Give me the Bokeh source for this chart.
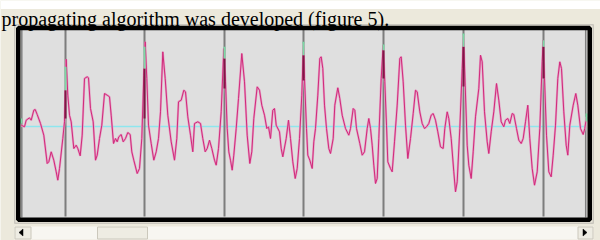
from bokeh.plotting import figure
from bokeh.models import Range1d, Label
from bokeh.embed import file_html
from bokeh.resources import INLINE

# ---------------- data (sample index, amplitude in a.u.; baseline = 0) ----------------
sig_t = [-0.3, 3.0, 4.7, 8.0, 9.7, 12.3, 13.7, 15.7, 19.0, 22.3, 25.7, 27.3, 29.7, 32.3, 34.7, 36.3,
         38.0, 41.3, 43.0, 44.7, 46.3, 48.0, 49.7, 52.3, 54.7, 56.3, 58.7, 60.7, 63.0, 65.7, 67.0,
         69.0, 71.7, 74.0, 75.7, 78.0, 80.3, 83.0, 85.7, 88.0, 89.7, 92.0, 94.0, 95.7, 97.3, 99.7,
         101.7, 104.0, 106.3, 108.7, 110.3, 112.3, 115.7, 118.0, 120.3, 122.3, 123.7, 125.3, 127.0,
         129.7, 132.3, 134.7, 137.0, 139.0, 141.3, 143.7, 146.3, 149.7, 153.0, 155.3, 157.0, 159.7,
         162.3, 164.0, 166.3, 169.0, 171.3, 173.0, 176.3, 179.0, 181.3, 183.7, 185.7, 188.0, 190.3,
         193.0, 194.7, 197.0, 199.7, 202.3, 204.0, 205.7, 207.3, 209.0, 210.7, 212.3, 214.7, 217.0,
         220.3, 223.0, 225.7, 228.3, 230.3, 232.3, 235.7, 238.0, 240.3, 243.0, 245.3, 247.0, 249.0,
         251.3, 253.0, 254.7, 258.0, 259.7, 261.3, 264.7, 267.0, 269.0, 271.3, 273.7, 275.7, 278.0,
         280.3, 282.0, 283.0, 285.0, 286.3, 288.3, 290.7, 292.3, 294.0, 296.3, 298.3, 299.7, 301.3,
         303.0, 305.0, 307.3, 309.0, 311.7, 313.3, 316.3, 318.3, 320.7, 324.0, 327.3, 329.0, 331.7,
         333.3, 335.0, 338.3, 340.7, 343.0, 345.7, 347.3, 349.0, 350.7, 352.3, 354.0, 355.7, 357.3,
         359.7, 361.7, 363.3, 365.0, 366.3, 369.0, 370.7, 373.0, 375.7, 378.3, 379.7, 381.7, 384.0,
         386.3, 389.0, 391.7, 394.0, 395.7, 398.3, 400.7, 403.0, 405.0, 407.3, 409.7, 411.7, 414.0,
         416.3, 419.0, 421.7, 423.3, 425.7, 427.3, 429.7, 432.3, 434.0, 435.7, 438.3, 440.7, 442.0,
         443.7, 445.7, 447.3, 449.7, 451.7, 454.0, 457.3, 459.0, 460.7, 463.0, 465.7, 467.3, 469.7,
         472.3, 475.0, 477.3, 479.7, 482.3, 484.0, 486.3, 488.3, 490.7, 492.3, 495.0, 497.3, 499.7,
         501.7, 504.0, 506.3, 508.3, 510.7, 513.0, 515.7, 518.3, 520.7, 521.7, 523.0, 525.0, 527.3,
         529.7, 531.7, 534.0, 536.3, 538.3, 540.0, 542.3, 544.7, 546.3, 548.3, 551.7, 554.3, 556.3,
         559.0, 561.7, 563.3, 565.0]
sig_a = [1.3, -0.3, 6.3, 8.7, 6.3, 16.3, 17.0, 12.0, 3.0, -8.7, -37.0, -35.3, -25.3, -33.7, -45.3, -53.7,
         -42.0, -12.0, 4.7, 67.3, 31.3, 11.3, 4.7, -22.0, -18.7, -22.0, -29.3, -8.7, 48.0, 49.7, 48.7,
         18.0, 4.7, -33.7, -28.7, -12.0, 1.3, 33.0, 31.3, 29.7, 11.3, -17.0, -12.0, -15.3, -10.3, -8.0,
         -15.3, -12.0, -6.0, -8.0, -25.3, -33.7, -47.0, -42.0, -12.0, 51.3, 84.7, 48.0, 1.3,
         -17.0, -33.7, -25.3, -12.0, 14.7, 74.7, 48.0, 11.3, -15.3, -33.7, -12.0, 24.7, 26.3,
         36.3, 34.7, 9.7, -8.7, -25.3, 3.0, 4.7, 3.0, -12.0, -25.3, -22.0, -13.7, -22.0,
         -33.7, -38.7, -22.0, 14.7, 78.0, 44.7, -2.0, -25.3, -33.7, -43.7, -28.7, -2.0, 28.0,
         73.0, 44.7, -8.7, -37.0, -25.3, 8.0, 39.7, 36.3, 21.3, 11.3, -2.0, -0.3, -12.0,
         16.3, 18.0, 1.3, -5.3, -22.0, -30.3, -12.0, 6.3, -12.0, -35.3, -52.0, -42.0, -12.0,
         31.3, 83.0, 48.0, -2.0, -28.7, -33.7, -42.0, -15.3, -2.0, 31.3, 68.0, 69.7, 58.0,
         21.3, -2.0, -22.0, -27.0, -12.0, 21.3, 38.7, 28.0, 11.3, -2.0, -8.7, -2.0, 18.0,
         16.3, -2.0, -17.0, -28.7, -25.3, -2.0, 8.0, -2.0, -18.7, -38.7, -57.0, -52.0, -12.0,
         48.0, 81.3, 44.7, 1.3, -35.3, -42.0, -45.3, -15.3, 21.3, 68.0, 69.7, 44.7, 1.3,
         -32.0, -12.0, 13.0, 36.3, 34.7, 14.7, 3.0, -2.0, -0.3, 3.0, 11.3, 13.0, 6.3,
         -5.3, -20.3, -22.0, -2.0, 14.7, 8.0, -12.0, -45.3, -65.3, -55.3, -2.0, 58.0, 91.3,
         41.3, -18.7, -38.7, -52.0, -25.3, 9.7, 38.0, 71.3, 64.7, 14.7, -15.3, -27.0, -5.3,
         14.7, 43.0, 26.3, 4.7, -0.3, 6.3, 8.0, 3.0, 13.0, 12.0, -2.0, -13.7, -17.0,
         -12.0, 4.7, 21.3, -12.0, -42.0, -58.7, -45.3, -2.0, 64.7, 86.3, 48.0, -8.7, -45.3,
         -50.3, -28.7, 1.3, 48.0, 64.7, 58.0, 14.7, -18.7, -28.7, 1.3, 21.3, 33.0, 21.3,
         -2.0, -8.0, -2.0, 9.7]

beat_t = [44, 123, 203, 282, 362, 442, 522]          # beat markers
mark_top = [59.7, 79.7, 79.7, 84.7, 82.0, 93.0, 86.3]  # green peak mark, top
mark_mid = [36.3, 58.0, 68.0, 71.3, 76.3, 79.7, 79.7]  # green / dark boundary
mark_low = [8.0, 8.0, 38.0, 46.0, 48.0, 40.0, 48.0]    # dark mark, bottom
edge_t = [-0.3, 565.0]
edge_top = [8.0, 13.0]
edge_bot = [3.0, 5.0]
caption = "propagating algorithm was developed (figure 5)."

# ---------------- figure ----------------
W, H = 600, 240
BEIGE = "#ECE9DC"
p = figure(width=W, height=H, output_backend="svg", toolbar_location=None,
           x_range=Range1d(-21, 579), y_range=Range1d(-114, 126),
           x_axis_type=None, y_axis_type=None, min_border=0,
           background_fill_color=BEIGE, border_fill_color=BEIGE,
           outline_line_color=None)
p.extra_x_ranges = {"px": Range1d(0, W)}
p.extra_y_ranges = {"px": Range1d(H, 0)}
PX = dict(x_range_name="px", y_range_name="px")

# white page strip with the caption
p.quad(left=0, right=W, top=0, bottom=8.5, fill_color="white", line_color=None, **PX)
p.add_layout(Label(x=1, y=18.3, text=caption, text_font="Liberation Serif",
                   text_font_size="20px", text_color="black", text_baseline="alphabetic",
                   x_range_name="px", y_range_name="px"))

# panel frame
p.quad(left=14.25, right=592.75, top=24.25, bottom=222.75, fill_color=None,
       line_color="#C9C6BE", line_width=1.5, **PX)
p.quad(left=20, right=587, top=29, bottom=217.5, fill_color="#DFDFDF", line_color=None, **PX)
p.segment(x0=[21.3, 585.2], x1=[21.3, 585.2], y0=[29.5, 29.5], y1=[217, 217],
          line_color="#808080", line_width=1.5, **PX)

# baseline
p.segment(x0=22, x1=585, y0=0, y1=0, line_color="#8EE6EE", line_width=1.5, x_range_name="px")

# beat markers
p.segment(x0=beat_t, x1=beat_t, y0=29.5, y1=216, line_color="#7D7D7D", line_width=2,
          y_range_name="px")

# signal
p.line(sig_t, sig_a, line_color="#E6A0C6", line_width=2.2)
p.line(sig_t, sig_a, line_color="#D02A7A", line_width=1.0)

# peak marks
p.segment(x0=beat_t, x1=beat_t, y0=mark_low, y1=mark_mid, line_color="#7E1846", line_width=2)
p.segment(x0=beat_t, x1=beat_t, y0=mark_mid, y1=mark_top, line_color="#7DD9A6", line_width=2)
p.segment(x0=edge_t, x1=edge_t, y0=edge_bot, y1=edge_top, line_color="#7DD9A6", line_width=2)

# black frame on top
p.quad(left=17.75, right=589.25, top=27.5, bottom=219.25, fill_color=None,
       line_color="black", line_width=4.5, **PX)

# scrollbar
p.quad(left=14, right=593, top=226, bottom=239, fill_color="#F7F6F1", line_color=None, **PX)
p.quad(left=[14.5, 97, 577.5], right=[30.5, 147, 592.5], top=226.5, bottom=238.5,
       fill_color="#EEECE3", line_color="#CBC8BC", line_width=1, **PX)
p.patches(xs=[[18.5, 22.5, 22.5], [586.5, 582.5, 582.5]],
          ys=[[232, 228.5, 235.5], [232, 228.5, 235.5]],
          fill_color="black", line_color="black", line_width=0.5, **PX)

open("out.html", "w").write(file_html(p, INLINE))
